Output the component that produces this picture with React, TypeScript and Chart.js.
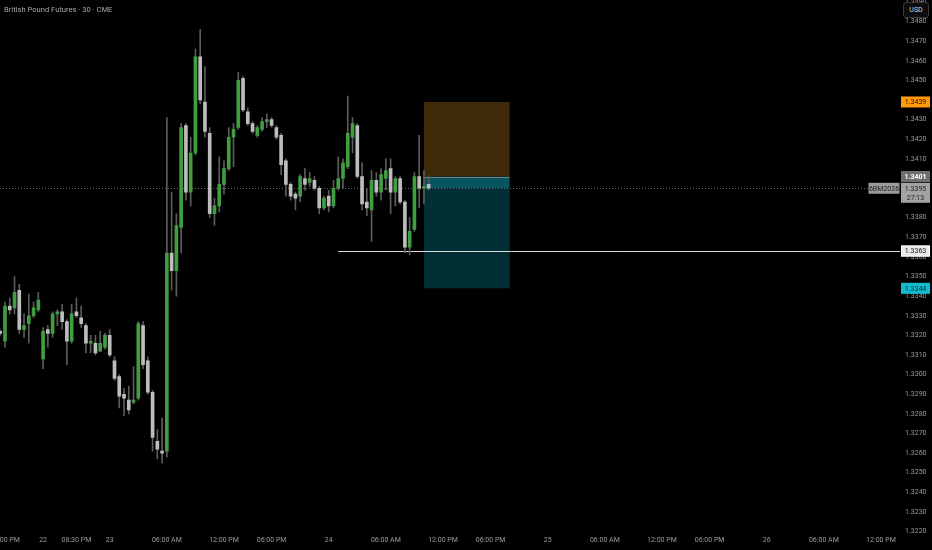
import React, { useEffect, useRef } from "react";
import { Chart, registerables } from "chart.js";

Chart.register(...registerables);

// ---- chart data ----
const TITLE = "British Pound Futures · 30 · CME";
const SYMBOL = "6BM2026";
const COUNTDOWN = "27:13";
const CURRENCY = "USD";

const OPEN = [
  1.3322, 1.3317, 1.3335, 1.3334, 1.3343, 1.3323, 1.3326, 1.3330, 1.3333, 1.3308,
  1.3323, 1.3321, 1.3331, 1.3332, 1.3327, 1.3317, 1.3332, 1.3329, 1.3325, 1.3316,
  1.3316, 1.3312, 1.3314, 1.3320, 1.3307, 1.3299, 1.3290, 1.3287, 1.3286, 1.3288,
  1.3325, 1.3307, 1.3291, 1.3266, 1.3261, 1.3261, 1.3362, 1.3353, 1.3375, 1.3427,
  1.3393, 1.3413, 1.3462, 1.3439, 1.3423, 1.3382, 1.3386, 1.3397, 1.3405, 1.3421,
  1.3426, 1.3451, 1.3434, 1.3428, 1.3422, 1.3425, 1.3429, 1.3430, 1.3426, 1.3422,
  1.3409, 1.3397, 1.3392, 1.3391, 1.3400, 1.3398, 1.3399, 1.3395, 1.3385, 1.3391,
  1.3386, 1.3395, 1.3400, 1.3406, 1.3421, 1.3427, 1.3401, 1.3388, 1.3384, 1.3399,
  1.3393, 1.3400, 1.3405, 1.3393, 1.3400, 1.3388, 1.3365, 1.3374, 1.3401, 1.3395,
  1.3397,
];
const HIGH = [
  1.3323, 1.3337, 1.3339, 1.3350, 1.3346, 1.3331, 1.3341, 1.3337, 1.3342, 1.3324,
  1.3325, 1.3332, 1.3333, 1.3336, 1.3328, 1.3336, 1.3339, 1.3335, 1.3326, 1.3320,
  1.3320, 1.3322, 1.3321, 1.3323, 1.3309, 1.3300, 1.3293, 1.3294, 1.3304, 1.3327,
  1.3327, 1.3309, 1.3292, 1.3272, 1.3278, 1.3431, 1.3393, 1.3382, 1.3428, 1.3428,
  1.3421, 1.3466, 1.3476, 1.3457, 1.3426, 1.3390, 1.3411, 1.3409, 1.3426, 1.3428,
  1.3454, 1.3452, 1.3436, 1.3429, 1.3427, 1.3431, 1.3433, 1.3431, 1.3427, 1.3423,
  1.3410, 1.3398, 1.3393, 1.3402, 1.3405, 1.3403, 1.3401, 1.3396, 1.3391, 1.3394,
  1.3399, 1.3411, 1.3410, 1.3442, 1.3431, 1.3428, 1.3408, 1.3395, 1.3404, 1.3403,
  1.3405, 1.3410, 1.3410, 1.3401, 1.3401, 1.3389, 1.3380, 1.3403, 1.3422, 1.3404,
  1.3401,
];
const LOW = [
  1.3320, 1.3314, 1.3331, 1.3331, 1.3321, 1.3319, 1.3316, 1.3329, 1.3332, 1.3303,
  1.3314, 1.3319, 1.3325, 1.3323, 1.3305, 1.3316, 1.3329, 1.3324, 1.3311, 1.3311,
  1.3310, 1.3312, 1.3313, 1.3309, 1.3297, 1.3283, 1.3279, 1.3280, 1.3285, 1.3287,
  1.3303, 1.3290, 1.3261, 1.3257, 1.3255, 1.3258, 1.3343, 1.3340, 1.3362, 1.3389,
  1.3386, 1.3412, 1.3438, 1.3421, 1.3380, 1.3376, 1.3383, 1.3392, 1.3404, 1.3406,
  1.3425, 1.3434, 1.3427, 1.3423, 1.3421, 1.3424, 1.3426, 1.3426, 1.3420, 1.3402,
  1.3391, 1.3389, 1.3384, 1.3388, 1.3394, 1.3396, 1.3394, 1.3382, 1.3384, 1.3383,
  1.3385, 1.3394, 1.3395, 1.3405, 1.3413, 1.3400, 1.3384, 1.3381, 1.3368, 1.3391,
  1.3389, 1.3394, 1.3382, 1.3386, 1.3387, 1.3362, 1.3361, 1.3373, 1.3385, 1.3387,
  1.3394,
];
const CLOSE = [
  1.3321, 1.3335, 1.3333, 1.3342, 1.3323, 1.3325, 1.3330, 1.3334, 1.3338, 1.3322,
  1.3321, 1.3331, 1.3332, 1.3327, 1.3317, 1.3331, 1.3330, 1.3326, 1.3316, 1.3317,
  1.3311, 1.3316, 1.3320, 1.3310, 1.3298, 1.3289, 1.3288, 1.3282, 1.3287, 1.3326,
  1.3305, 1.3291, 1.3268, 1.3262, 1.3260, 1.3362, 1.3353, 1.3376, 1.3426, 1.3393,
  1.3413, 1.3462, 1.3440, 1.3424, 1.3382, 1.3386, 1.3397, 1.3405, 1.3421, 1.3425,
  1.3450, 1.3435, 1.3428, 1.3424, 1.3426, 1.3429, 1.3430, 1.3427, 1.3421, 1.3407,
  1.3397, 1.3391, 1.3390, 1.3401, 1.3397, 1.3400, 1.3395, 1.3385, 1.3390, 1.3386,
  1.3395, 1.3400, 1.3408, 1.3423, 1.3428, 1.3401, 1.3387, 1.3385, 1.3399, 1.3393,
  1.3402, 1.3404, 1.3393, 1.3400, 1.3388, 1.3365, 1.3373, 1.3401, 1.3395, 1.3396,
  1.3395,
];

const X_TICK_INDEX = [1, 9, 16, 23, 35, 47, 57, 69, 81, 93, 103, 115, 127, 139, 149, 161, 173, 185];
const X_TICK_LABELS = [
  "12:00 PM", "22", "08:30 PM", "23", "06:00 AM", "12:00 PM", "06:00 PM", "24",
  "06:00 AM", "12:00 PM", "06:00 PM", "25", "06:00 AM", "12:00 PM", "06:00 PM", "26",
  "06:00 AM", "12:00 PM",
];

const STOP_PRICE = 1.3439;
const ENTRY_PRICE = 1.3401;
const LAST_PRICE = 1.3395;
const LEVEL_PRICE = 1.3363;
const TARGET_PRICE = 1.3344;
const POSITION_START = 89;
const POSITION_END = 107;
const LEVEL_START = 71;

// ---- styling ----
const GREEN = "#3f9e42";
const GRAY = "#bdbdbd";
const WICK = "#5c5c5c";
const TEXT = "#9b9b9b";
const FONT = "Roboto, 'Noto Sans', sans-serif";

const overlayPlugin = {
  id: "tvOverlay",
  beforeDatasetsDraw(chart: any) {
    const { ctx, chartArea: a, scales } = chart;
    const x = scales.x;
    const y = scales.y;
    ctx.save();
    ctx.beginPath();
    ctx.rect(a.left, a.top, a.right - a.left, a.bottom - a.top);
    ctx.clip();
    const x0 = x.getPixelForValue(POSITION_START);
    const x1 = x.getPixelForValue(POSITION_END);
    const yStop = y.getPixelForValue(STOP_PRICE);
    const yEntry = y.getPixelForValue(ENTRY_PRICE);
    const yLast = y.getPixelForValue(LAST_PRICE);
    const yTarget = y.getPixelForValue(TARGET_PRICE);
    ctx.fillStyle = "#3e2a07";
    ctx.fillRect(x0, yStop, x1 - x0, yEntry - yStop);
    ctx.fillStyle = "#065561";
    ctx.fillRect(x0, yEntry, x1 - x0, yLast - yEntry);
    ctx.fillStyle = "#002f36";
    ctx.fillRect(x0, yLast, x1 - x0, yTarget - yLast);
    ctx.strokeStyle = "#7a7a7a";
    ctx.lineWidth = 1;
    ctx.beginPath();
    ctx.moveTo(x0, Math.round(yEntry) + 0.5);
    ctx.lineTo(x1, Math.round(yEntry) + 0.5);
    ctx.stroke();
    // current price dotted line
    ctx.strokeStyle = "#6a6a6a";
    ctx.setLineDash([1, 2]);
    ctx.beginPath();
    ctx.moveTo(a.left, Math.round(yLast) + 0.5);
    ctx.lineTo(a.right, Math.round(yLast) + 0.5);
    ctx.stroke();
    ctx.setLineDash([]);
    // horizontal level line
    const yLevel = y.getPixelForValue(LEVEL_PRICE);
    ctx.strokeStyle = "#d9d9d9";
    ctx.beginPath();
    ctx.moveTo(x.getPixelForValue(LEVEL_START), Math.round(yLevel) + 0.5);
    ctx.lineTo(a.right, Math.round(yLevel) + 0.5);
    ctx.stroke();
    ctx.restore();
  },
  afterDraw(chart: any) {
    const { ctx, chartArea: a, scales } = chart;
    const y = scales.y;
    const left = a.right + 1;
    const w = 29;
    ctx.save();
    ctx.textAlign = "center";
    ctx.textBaseline = "middle";
    const tag = (price: number, bg: string, fg: string, bold = false, border?: string) => {
      const yy = y.getPixelForValue(price);
      ctx.fillStyle = bg;
      ctx.fillRect(left, yy - 5.5, w, 11);
      if (border) {
        ctx.strokeStyle = border;
        ctx.lineWidth = 1;
        ctx.strokeRect(left + 0.5, yy - 5, w - 1, 10);
      }
      ctx.fillStyle = fg;
      ctx.font = `${bold ? "bold " : ""}7px ${FONT}`;
      ctx.fillText(price.toFixed(4), left + w / 2, yy + 0.5);
    };
    tag(STOP_PRICE, "#ff9a0d", "#1b1206");
    tag(TARGET_PRICE, "#12bccf", "#05262b");
    tag(LEVEL_PRICE, "#e9e9e9", "#151515", false, "#ffffff");
    tag(ENTRY_PRICE, "#6f6f6f", "#ffffff", true);
    // last price box with countdown
    const yl = y.getPixelForValue(LAST_PRICE);
    ctx.fillStyle = "#a3a3a3";
    ctx.fillRect(left, yl - 5.5, w, 20);
    ctx.fillStyle = "#1e1e1e";
    ctx.font = `7px ${FONT}`;
    ctx.fillText(LAST_PRICE.toFixed(4), left + w / 2, yl + 0.5);
    ctx.fillText(COUNTDOWN, left + w / 2, yl + 9.5);
    // symbol label
    ctx.fillStyle = "#9a9a9a";
    ctx.fillRect(a.right - 31.5, yl - 5.5, 31, 11);
    ctx.fillStyle = "#1e1e1e";
    ctx.fillText(SYMBOL, a.right - 16, yl + 0.5);
    ctx.restore();
  },
};

export default function App() {
  const ref = useRef<HTMLCanvasElement | null>(null);

  useEffect(() => {
    document.body.style.margin = "0";
    document.body.style.background = "#000";
    const canvas = ref.current;
    if (!canvas) return;
    const idx = OPEN.map((_, i) => i);
    const chart = new Chart(canvas, {
      type: "bar",
      data: {
        datasets: [
          {
            label: "wick",
            data: idx.map((i) => ({ x: i, y: [LOW[i], HIGH[i]] })) as any,
            backgroundColor: WICK,
            borderWidth: 0,
            barThickness: 1,
            grouped: false,
            order: 2,
          },
          {
            label: "body",
            data: idx.map((i) => ({
              x: i,
              y: [Math.min(OPEN[i], CLOSE[i]), Math.max(OPEN[i], CLOSE[i])],
            })) as any,
            backgroundColor: (c: any) =>
              CLOSE[c.dataIndex] >= OPEN[c.dataIndex] ? GREEN : GRAY,
            borderWidth: 0,
            barThickness: 3,
            minBarLength: 1,
            grouped: false,
            order: 1,
          },
        ],
      },
      options: {
        animation: false,
        responsive: false,
        maintainAspectRatio: false,
        layout: { padding: 0 },
        plugins: { legend: { display: false }, tooltip: { enabled: false } },
        scales: {
          x: {
            type: "linear",
            offset: false,
            min: -0.05,
            max: 189,
            grid: { display: false, drawTicks: false },
            border: { display: false },
            afterBuildTicks: (s: any) => {
              s.ticks = X_TICK_INDEX.map((v) => ({ value: v }));
            },
            afterFit: (s: any) => {
              s.height = 18.5;
              s.paddingLeft = 0;
              s.paddingRight = 0;
            },
            ticks: {
              autoSkip: false,
              maxRotation: 0,
              minRotation: 0,
              padding: 5,
              color: TEXT,
              font: { family: FONT, size: 7 },
              callback: (_v: any, i: number) => X_TICK_LABELS[i],
            },
          },
          y: {
            type: "linear",
            position: "right",
            min: 1.322,
            max: 1.3491,
            grid: { display: false, drawTicks: false },
            border: { display: false },
            afterFit: (s: any) => {
              s.width = 32;
              s.paddingTop = 0;
              s.paddingBottom = 0;
            },
            ticks: {
              stepSize: 0.001,
              includeBounds: false,
              padding: 5,
              color: TEXT,
              font: { family: FONT, size: 7 },
              callback: (v: any) => Number(v).toFixed(4),
            },
          },
        },
      },
      plugins: [overlayPlugin],
    });
    return () => chart.destroy();
  }, []);

  return (
    <div style={{ position: "relative", width: 932, height: 550, background: "#000", overflow: "hidden" }}>
      <canvas ref={ref} width={932} height={550} style={{ display: "block" }} />
      <div
        style={{
          position: "absolute",
          left: 4,
          top: 5,
          fontFamily: FONT,
          fontSize: 7.6,
          color: "#a4a4a4",
          whiteSpace: "nowrap",
        }}
      >
        {TITLE}
      </div>
      <div
        style={{
          position: "absolute",
          left: 903,
          top: 2,
          width: 26,
          height: 16,
          boxSizing: "border-box",
          border: "1px solid #3a3a3a",
          borderRadius: 3,
          background: "#0d0d0d",
          color: "#d6d6d6",
          fontFamily: FONT,
          fontSize: 7,
          lineHeight: "14px",
          textAlign: "center",
        }}
      >
        {CURRENCY}
      </div>
    </div>
  );
}
